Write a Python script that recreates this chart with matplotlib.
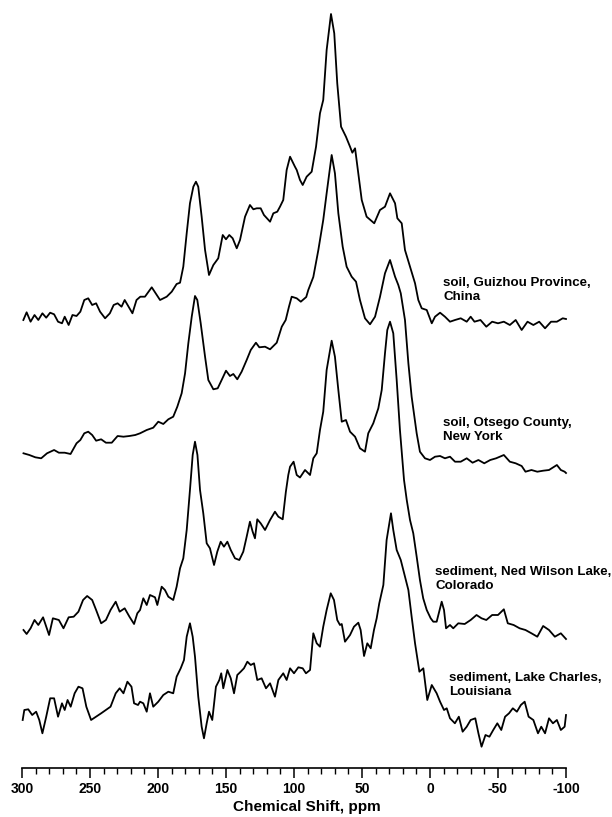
import numpy as np
import matplotlib
matplotlib.use("Agg")
import matplotlib.pyplot as plt
from matplotlib.ticker import MultipleLocator

plt.rcParams['font.family'] = ['Liberation Sans', 'DejaVu Sans']
plt.rcParams['font.weight'] = 'bold'
plt.rcParams['axes.unicode_minus'] = False

# 13C NMR spectra, chemical shift (ppm) vs intensity (arbitrary units, above each trace's baseline)

guizhou_ppm = [299, 296.6, 293.7, 290.8, 288, 285, 282.2, 279.3, 276.4, 273.5, 270.6, 268.6, 265.7,
               262.9, 259.9, 257.1, 254.2, 251.3, 248.4, 245.5, 242.6, 238.9, 235.4, 232.6, 229.7,
               226.8, 224.5, 221.6, 218.8, 215.8, 213, 209.6, 204.6, 198.5, 193.6, 189.9, 186.3,
               183.8, 181.4, 178.9, 176.5, 174, 172.1, 170.4, 167.9, 165.4, 162.5, 159.3, 155.7,
               152.4, 150, 147.6, 145.1, 142.1, 139.7, 136, 132.4, 129.9, 127.4, 124.5, 122.1,
               117.6, 115.2, 112.3, 110.3, 107.9, 105.4, 102.9, 99.3, 98, 95.6, 93.6, 90.7, 87,
               83.8, 80.9, 78.5, 76, 72.8, 70.4, 68.2, 65.4, 61.8, 58.8, 57.1, 55.1, 52.7, 50.2,
               46.6, 41, 36.8, 33.1, 29.4, 25.7, 24, 20.8, 18.4, 14.7, 11, 8.6, 6.1, 2.4, -1.3,
               -3.7, -7.4, -11, -14.7, -18.4, -22.6, -27, -29.9, -32.7, -37.1, -41.4, -45.7, -50,
               -54.3, -58.7, -63, -67.4, -71.7, -76, -80.3, -84.6, -89, -93.3, -97.6, -100]
guizhou_int = [0, 7.7, -1.7, 5, 0, 6.7, 2.3, 7.3, 5.7, -1.7, -3.3, 3.3, -5,
               5, 4, 8.3, 20, 21.7, 15, 16.7, 8.3, 1.7, 6.7, 15, 16.7,
               13.3, 20, 13.3, 6.7, 20, 23.3, 23.3, 32.7, 20, 23.3, 28.3, 36,
               37.3, 53.3, 86.7, 116.7, 133.3, 138.3, 133.3, 103.3, 70, 45, 55, 61.7,
               85, 80.7, 85, 81.7, 71.7, 80, 103.3, 115, 110.7, 111.7, 111.7, 105,
               98.3, 106.7, 108.3, 113.3, 120, 150, 163.3, 153.3, 150, 140, 135, 143.3, 148.3,
               173.3, 206.7, 220, 270, 306, 286.7, 236.7, 193.3, 183.3, 173.3, 167.3, 171.7, 146.7, 120,
               103.3, 96.7, 110, 113.3, 126.7, 116.7, 101.7, 96.7, 70, 53.3, 36.7, 20, 11.7, 10, -3.3,
               3.3, 7.3, 3.3, -1.7, 0, 1.7, -1.7, 3.3, -1.7, 0, -6.7, -1.7, -3.3,
               -1.7, -5, 0, -10, -1.7, -5, -1.7, -8.3, -1.7, -1.7, 1.7, 1]

otsego_ppm = [298.9, 294.6, 290.2, 285.9, 281.6, 276.4, 272.9, 268.6, 264.3, 259.9, 257.1, 254.2,
              251.3, 248.4, 245.5, 241.8, 238.3, 234, 229.7, 225.4, 221, 216.7, 213.2, 208.3,
              203.5, 199.8, 196.1, 192.4, 188.8, 185.8, 182.6, 180.1, 177.7, 175.2, 172.8, 171.1,
              168.6, 165.4, 163, 159.3, 156.1, 153.2, 150, 147.1, 144.6, 141.7, 138.5, 134.8,
              131.8, 128, 125.5, 121.3, 117.6, 112.7, 109, 106.1, 103.7, 101.7, 98, 95, 91, 89.5,
              85.8, 82.1, 78.5, 76, 72.3, 69.9, 67.4, 64.2, 61.3, 57.6, 54.4, 51.5, 47.8, 44.1,
              40.4, 36.8, 33.1, 29.4, 25.7, 23.3, 21.5, 18.4, 15.9, 13.5, 9.8, 7.4, 3.7, 0, -3.7,
              -7.4, -11, -14.7, -18.4, -22.6, -27, -31.3, -35.6, -39.9, -44.3, -48.6, -54.3,
              -58.7, -63, -67.4, -70.2, -74.6, -78.9, -83.2, -87.5, -93.3, -96.2, -99, -100]
otsego_int = [1.7, 0, -2.3, -3.3, 1.7, 5, 2.3, 2.3, 1, 11.7, 15, 21.7,
              23.3, 20, 14.3, 15.7, 12.3, 12.3, 19, 18.3, 19, 20, 21.7, 25,
              27.3, 33.3, 31, 35.7, 38.3, 48.3, 61.7, 81.7, 111.7, 138.3, 159, 155,
              131.7, 98.3, 75, 65.7, 66.7, 75, 84.3, 79, 81, 75.7, 83.3, 95,
              105, 112.3, 107.7, 108.3, 105.7, 112.3, 128.3, 135, 148.3, 158.3, 156.7, 153.3, 158, 165,
              178, 205, 235, 261.7, 300, 281.7, 241.7, 208.3, 188.3, 178.3, 173.3, 155, 136.7, 130.7,
              138.3, 158, 181.7, 195, 178.3, 170, 161.7, 135, 91.7, 58.3, 21.7, 3.3, -3.3, -5, -1.7,
              -1, -3.3, -1.7, -6.7, -6.7, -3.3, -7.7, -5, -8.3, -5, -3.3, 0,
              -6.7, -8.3, -11, -16.7, -15, -16.7, -15.7, -15, -10, -15, -16.7, -18]

nedwilson_ppm = [298.9, 296.6, 293.7, 290.8, 288, 284.5, 280.1, 277.3, 272.9, 269.5, 265.7, 262,
                 258.5, 255.1, 252.1, 248.4, 245.5, 241.8, 238.3, 234.9, 231.1, 228.2, 224.5, 221,
                 217.6, 215.2, 213.2, 210.8, 208.3, 205.9, 202.2, 200.5, 197.3, 194.9, 192.4, 188.8,
                 186.3, 183.8, 181.4, 178.9, 176.5, 174.5, 172.8, 171, 169.1, 166.7, 164.2, 161.8,
                 158.8, 156.4, 153.9, 151.5, 149, 146.5, 143.4, 140.2, 137.3, 134.8, 132.4, 130.4,
                 128.7, 127, 124.5, 121.3, 117.6, 114, 111.5, 108.3, 106, 104.2, 102.9, 100.3, 98,
                 95.6, 91.9, 88.2, 85.8, 83.3, 80.9, 78.5, 76, 72.3, 69.9, 67.4, 64.9, 61.8, 58.8,
                 55.1, 51.5, 47.8, 45.4, 41.7, 38, 35.5, 33.1, 31.4, 29.4, 27, 24.5, 22.1, 19.1,
                 17.1, 14.7, 12.3, 9.8, 7.4, 5, 2.4, -0.5, -2.4, -4.9, -8.6, -10.3, -11.8, -14.7,
                 -17.1, -20.8, -25.5, -29.9, -34.2, -37.9, -41.4, -45.7, -50, -54.3, -57.2, -61.5,
                 -65.9, -70.2, -74.6, -78.9, -83.2, -87.5, -91.8, -96.2, -100]
nedwilson_int = [0, -4, 1.7, 10, 5, 12.7, -5, 11.7, 10, 1.7, 12.7, 13.3,
                 18.3, 30, 34, 30, 20, 6.7, 10, 20, 28.3, 18.3, 21.7, 13.3,
                 6, 16.7, 20, 31.7, 25, 35, 32.7, 25, 43.3, 40, 33.3, 30,
                 43.3, 61.7, 71.7, 100, 140, 175, 188.3, 175, 140, 116.7, 86.7, 81.7,
                 65, 78.3, 88.3, 83.3, 88.3, 80, 71.7, 70, 78.3, 93.3, 108.3, 98.3,
                 91.7, 110.7, 106.7, 100, 110, 118.3, 113.3, 110.7, 138, 155, 163.3, 168.3, 155,
                 152.5, 160, 155, 171.7, 176.7, 200, 218.3, 260, 289.3, 273.3, 240, 208.3, 210, 198.3,
                 193.3, 181.7, 178.3, 196.7, 206.7, 221.7, 240, 276.7, 300, 308.3, 296.7, 250, 200, 150,
                 130, 110, 96.7, 73.3, 50, 31.7, 20, 11.7, 8.3, 8.3, 28.3, 20, 1.7, 5,
                 1.7, 6.7, 6, 10, 15, 11.7, 10, 15, 15, 20.7, 6.7, 5,
                 1.7, 0, -3.3, -6.7, 4, 0, -6.7, -3.3, -9]

lakecharles_ppm = [299.5, 298.3, 295.4, 292.5, 289.6, 287.3, 285, 282.2, 279.3, 276.4, 273.5, 270.6,
                   268.6, 266.5, 264.2, 261.3, 258.5, 255.5, 252.7, 249.2, 245.5, 241.8, 238.3, 234.9,
                   231.1, 228.2, 225.4, 222.5, 219.5, 217.6, 214.7, 213.2, 210.8, 208.3, 205.9, 203.5,
                   199.8, 196.1, 192.4, 188.8, 186.3, 183.3, 180.9, 178.9, 176.5, 174.5, 172.8, 170.4,
                   167.9, 166.2, 164.2, 162.5, 160.1, 157.4, 154.9, 153.5, 152, 149, 146.5, 144.1,
                   141.7, 139.2, 136.8, 134.3, 131.8, 129.4, 127, 123.8, 120.6, 117.6, 114, 111.5,
                   107.9, 105.4, 102.9, 100, 96.8, 93.6, 91.2, 88.2, 85.8, 83.3, 80.9, 78.5, 76, 73,
                   70.6, 68.2, 66.2, 64.9, 62.5, 58.8, 55.9, 52.7, 51, 48.5, 46.1, 43.6, 41.2, 39.2,
                   37.3, 34.3, 31.9, 28.7, 27, 24.5, 21.5, 18.4, 15.9, 13.5, 11, 7.8, 4.9, 2, -1.3,
                   -4.9, -7.4, -10.3, -12.3, -14.7, -18.3, -21.2, -24, -27, -29.9, -33.3, -35.6,
                   -37.9, -40.8, -43.7, -46.5, -49.5, -52.4, -55.2, -58.1, -60.9, -63.9, -66.8,
                   -69.6, -72.5, -76, -79.4, -81.8, -84.6, -87.5, -90.4, -93.3, -96.2, -99, -100]
lakecharles_int = [-5, 5, 5.7, 0, 3.3, -5, -18.3, -1.7, 16.7, 16.7, -1.7, 11.7,
                   5, 15, 8.3, 21.7, 28.3, 26.7, 8.3, -5, -1.7, 1.7, 5, 8.3,
                   21.7, 26.7, 21.7, 33.3, 28.3, 11.7, 10, 13.3, 11.7, 3.3, 21.7, 8.3,
                   13.3, 20, 23.3, 21.7, 38.3, 46.7, 55, 78.3, 91.7, 78.3, 58.3, 18.3,
                   -11.7, -23.3, -8.3, 3.3, -5, 28.3, 35, 41.7, 26.7, 45, 36.7, 21.7,
                   40, 43.3, 46.7, 53.3, 50, 51.7, 35, 36.7, 26.7, 31.7, 18.3, 35,
                   41.7, 35, 46.7, 41.7, 47.7, 46.7, 41.7, 45, 81.7, 71.7, 68.3, 88.3, 105, 121.7,
                   115, 95, 90, 91, 73.3, 80, 88.3, 92.3, 85, 59, 71.7, 66.7, 85, 96.7,
                   111.7, 130, 175, 201.7, 185, 165, 155, 138.3, 125, 98.3, 71.7, 43.3, 46.7, 15, 30,
                   21.7, 13.3, 5, 6.7, -3.3, -8.3, -1.7, -16.7, -11.7, -5, -3.3, -18.3,
                   -31.7, -20, -21.7, -15, -8.3, -15, -1.7, 1.7, 6.7, 3.3, 10,
                   13.3, -1.7, -5, -18.3, -11.7, -18.3, -3.3, -8.3, -5, -15, -11.7, 0]

traces = [
    (guizhou_ppm, guizhou_int, 448, "soil, Guizhou Province,\nChina", 443, 283),
    (otsego_ppm, otsego_int, 313, "soil, Otsego County,\nNew York", 443, 423),
    (nedwilson_ppm, nedwilson_int, 138, "sediment, Ned Wilson Lake,\nColorado", 435, 572),
    (lakecharles_ppm, lakecharles_int, 53, "sediment, Lake Charles,\nLouisiana", 449, 678),
]

W, H = 612, 817
fig = plt.figure(figsize=(W / 100, H / 100), dpi=100)
ax = fig.add_axes([22 / W, 49 / H, 544 / W, 768 / H])

for ppm, inten, offset, label, lx, ly in traces:
    ax.plot(ppm, np.array(inten) + offset, color='black', lw=1.3, clip_on=False)
    fig.text(lx / W, 1 - (ly - 6) / H, label, fontsize=9.6, fontweight='bold',
             ha='left', va='top', linespacing=1.2)

ax.set_xlim(300, -100)
ax.set_ylim(0, 768)
for side in ['left', 'right', 'top']:
    ax.spines[side].set_visible(False)
ax.spines['bottom'].set_linewidth(1.2)
ax.set_yticks([])
ax.xaxis.set_major_locator(MultipleLocator(50))
ax.xaxis.set_minor_locator(MultipleLocator(10))
ax.tick_params(axis='x', which='major', direction='out', length=7, width=1.1, pad=3, labelsize=10)
ax.tick_params(axis='x', which='minor', direction='out', length=4, width=1.0)
for lab in ax.get_xticklabels():
    lab.set_fontweight('bold')

fig.text(307 / W, 1 - 807 / H, "Chemical Shift, ppm", fontsize=11, fontweight='bold',
         ha='center', va='center')

fig.savefig("out.png", dpi=100)
